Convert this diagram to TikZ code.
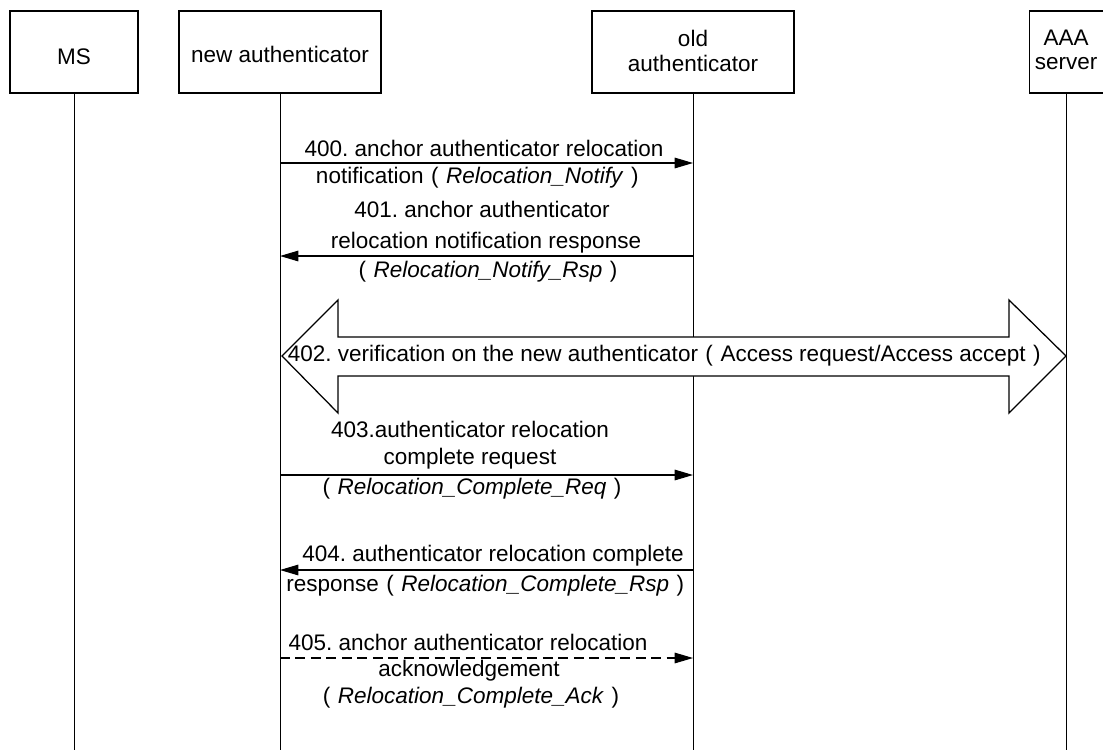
\documentclass[tikz,border=0pt]{standalone}
\usepackage{fontspec}
\setmainfont{Liberation Sans}
\usetikzlibrary{arrows.meta}
\newcommand{\zkl}{\makebox[1em]{\upshape(}}
\newcommand{\zkr}{\makebox[1em]{\upshape)}}
\frenchspacing

\begin{document}
\begin{tikzpicture}[x=0.025cm, y=-0.025cm,
	box/.style={draw, line width=0.9pt, minimum height=2.05cm, inner sep=0pt},
	life/.style={line width=0.7pt},
	msg/.style={line width=0.8pt, -{Triangle[length=13pt, width=7.5pt]}},
	txt/.style={font=\fontsize{16pt}{17.5pt}\selectfont, inner sep=0pt, align=center},
	bigarrow/.style={draw, fill=white, line width=0.9pt}]
			%%%%% START %%%%%
			\useasboundingbox (0,0) rectangle (1103,750);
			\coordinate (bot) at (0,750);
			
			\node[box, minimum width=3.2cm] (ms) at (74,52) {};
			\node[box, minimum width=5.05cm] (na) at (280,52) {};
			\node[box, minimum width=5.05cm] (oa) at (693,52) {};
			\node[box, minimum width=1.85cm] (aaa) at (1066.5,52) {};
			
			\node[txt] (msname) at (74,57) {MS};
			\node[txt] (naname) at (280,54) {new authenticator};
			\node[txt] (oaname) at (693,51) {old\\authenticator};
			\node[txt] (aaaname) at (1066,50) {AAA\\server};
			
			\draw[life] (ms) -- (ms |- bot);
			\draw[life] (na) -- (na |- bot);
			\draw[life] (oa) -- (oa |- bot);
			\draw[life] (aaa) -- (aaa |- bot);
			
			% 400
			\coordinate (m400) at (0,163);
			\draw[msg] (na |- m400) -- (oa |- m400);
			\node[txt] (t400a) at (484,148) {400. anchor authenticator relocation};
			\node[txt] (t400b) at (481,178) {notification\zkl\textit{Relocation\_Notify}\zkr};
			
			% 401
			\coordinate (m401) at (0,256);
			\draw[msg] (oa |- m401) -- (na |- m401);
			\node[txt] (t401a) at (482,209) {401. anchor authenticator};
			\node[txt] (t401b) at (486,243) {relocation notification response};
			\node[txt] (t401c) at (488,272) {\zkl\textit{Relocation\_Notify\_Rsp}\zkr};
			
			% 402
			\draw[bigarrow] (282,356) -- (338,300) -- (338,337) -- (1009,337) -- (1009,300) -- (1066,356)
				-- (1009,413) -- (1009,376) -- (338,376) -- (338,413) -- cycle;
			\node[txt] (t402) at (668,356) {402. verification on the new authenticator\zkl Access request/Access accept\zkr};
			
			% 403
			\coordinate (m403) at (0,475);
			\draw[msg] (na |- m403) -- (oa |- m403);
			\node[txt] (t403a) at (470,429) {403.authenticator relocation};
			\node[txt] (t403b) at (470,459) {complete request};
			\node[txt] (t403c) at (472,489) {\zkl\textit{Relocation\_Complete\_Req}\zkr};
			
			% 404
			\coordinate (m404) at (0,570);
			\draw[msg] (oa |- m404) -- (na |- m404);
			\node[txt] (t404a) at (493,556) {404. authenticator relocation complete};
			\node[txt] (t404b) at (489,586) {response\zkl\textit{Relocation\_Complete\_Rsp}\zkr};
			
			% 405
			\coordinate (m405) at (0,658);
			\draw[msg, dash pattern=on 7pt off 4pt] (na |- m405) -- (oa |- m405);
			\node[txt] (t405a) at (468,642) {405. anchor authenticator relocation};
			\node[txt] (t405b) at (469,671) {acknowledgement};
			\node[txt] (t405c) at (471,698) {\zkl\textit{Relocation\_Complete\_Ack}\zkr};
			
			%%%%% END %%%%%
		\end{tikzpicture}
\end{document}
